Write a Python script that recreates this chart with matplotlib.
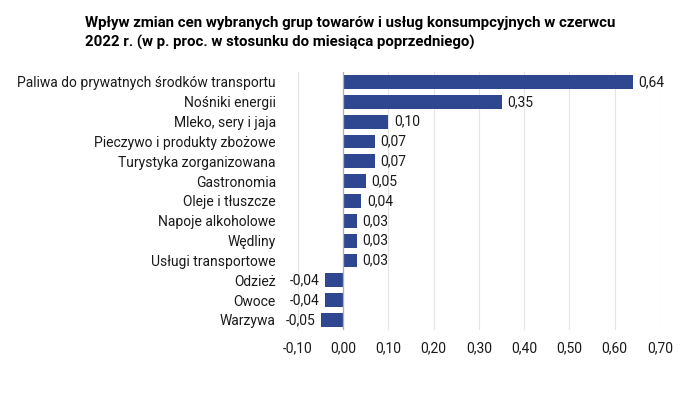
import matplotlib
matplotlib.use("Agg")
import matplotlib.pyplot as plt

# Data
categories = ['Paliwa do prywatnych środków transportu', 'Nośniki energii',
              'Mleko, sery i jaja', 'Pieczywo i produkty zbożowe',
              'Turystyka zorganizowana', 'Gastronomia', 'Oleje i tłuszcze',
              'Napoje alkoholowe', 'Wędliny', 'Usługi transportowe',
              'Odzież', 'Owoce', 'Warzywa']
values = [0.64, 0.35, 0.10, 0.07, 0.07, 0.05, 0.04, 0.03, 0.03, 0.03,
          -0.04, -0.04, -0.05]
xticks = [-0.1, 0.0, 0.1, 0.2, 0.3, 0.4, 0.5, 0.6, 0.7]

plt.rcParams['font.family'] = ['Roboto', 'DejaVu Sans']

fig = plt.figure(figsize=(7, 3.96), dpi=100)
ax = fig.add_axes([0.4257, 0.167, 0.517, 0.651])

pos = list(range(len(categories)))
ax.barh(pos, values, height=0.7, color='#2f4791', zorder=3)
ax.set_ylim(len(categories) - 0.5, -0.5)
ax.set_xlim(-0.1, 0.7)

ax.set_yticks(pos)
ax.set_yticklabels(categories, fontsize=10, color='#1a1a1a')
ax.set_xticks(xticks)
ax.set_xticklabels(['{:.2f}'.format(t).replace('.', ',') for t in xticks],
                   fontsize=10, color='#1a1a1a')
ax.tick_params(axis='both', length=0)
ax.tick_params(axis='y', pad=16)
ax.tick_params(axis='x', pad=8)

for s in ax.spines.values():
    s.set_visible(False)
ax.grid(axis='x', color='#e4e4e4', linewidth=0.8, zorder=0)
ax.axvline(0, color='#b0b0b0', linewidth=0.9, zorder=4)

for i, v in enumerate(values):
    txt = '{:.2f}'.format(v).replace('.', ',')
    if v >= 0:
        ax.text(v + 0.012, i, txt, va='center', ha='left', fontsize=10, color='#1a1a1a')
    else:
        ax.text(v - 0.012, i, txt, va='center', ha='right', fontsize=10, color='#1a1a1a')

fig.text(0.121, 0.96, 'Wpływ zmian cen wybranych grup towarów i usług konsumpcyjnych w czerwcu\n'
         '2022 r. (w p. proc. w stosunku do miesiąca poprzedniego)',
         ha='left', va='top', fontsize=10.8, fontweight='bold',
         family=['Roboto', 'DejaVu Sans'], linespacing=1.45)

fig.savefig('out.png', dpi=100, facecolor='white')
